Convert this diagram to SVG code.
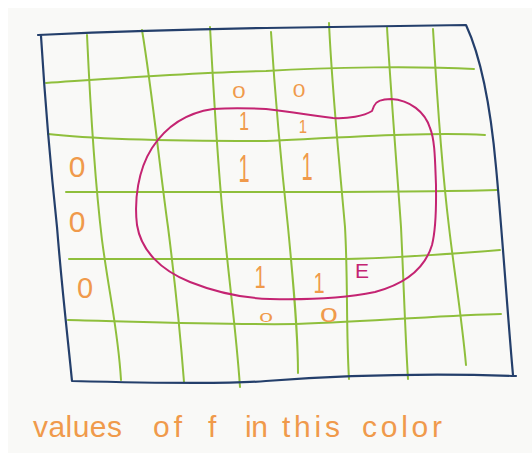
<svg xmlns="http://www.w3.org/2000/svg" width="532" height="453" viewBox="0 0 532 453">
<style>
.frame{fill:none;stroke:#243f6b;stroke-width:2.2;stroke-linecap:round;stroke-linejoin:round}
.grid{fill:none;stroke:#8fbf3c;stroke-width:2;stroke-linecap:round}
.region{fill:none;stroke:#c42472;stroke-width:2;stroke-linejoin:round}
.val{fill:#f09a4b;font-family:"Liberation Sans",Arial,sans-serif;text-anchor:middle}
.lbl{fill:#c42472;font-family:"Liberation Sans",Arial,sans-serif}
.cap{fill:#f09a4b;font-family:"Liberation Sans",Arial,sans-serif;font-size:30px}
</style>
<rect x="0" y="0" width="532" height="453" fill="#ffffff"/>
<rect x="8" y="8" width="524" height="445" fill="#f9f9f7"/>
<g id="grid">
<path class="grid" d="M87,35 C90,100 96,190 102,240 C110,300 118,330 121,380"/>
<path class="grid" d="M142,30 C152,90 160,170 168,227 C176,290 180,330 184,382"/>
<path class="grid" d="M210,27 C214,100 220,190 224,227 C230,290 236,330 240,387"/>
<path class="grid" d="M271,32 C276,110 284,190 288,227 C293,280 298,330 298,373"/>
<path class="grid" d="M329,23 C332,90 340,170 345,227 C348,280 346,330 349,379"/>
<path class="grid" d="M387,27 C390,80 397,170 401,227 C404,290 405,330 408,379"/>
<path class="grid" d="M433,29 C436,80 442,170 449,227 C454,270 462,320 466,365"/>
<path class="grid" d="M46,83 C120,78 200,72 266,71 C330,67 420,66 474,69"/>
<path class="grid" d="M48,134 C90,139 180,141 266,141 C350,137 430,132 485,135"/>
<path class="grid" d="M66,192 C200,192 400,193 497,190"/>
<path class="grid" d="M69,259 L346,259 C400,258 450,254 500,250"/>
<path class="grid" d="M68,320 C150,322 230,325 296,324 C380,321 450,315 501,314"/>
</g>
<g id="frame">
<path class="frame" d="M38,35 Q150,30 266,28 T466,25 C480,55 490,100 496,167 C502,230 508,320 513,375"/>
<path class="frame" d="M41,36 C45,100 52,180 57,227 C62,290 68,340 72,381 C150,383 230,384 266,381 C320,377 400,372 516,376"/>
</g>
<g id="region-E">
<path class="region" d="M213,109 C185,113 165,128 152,148 C138,170 134,200 137,225 C141,250 160,270 190,282 C215,292 240,298 270,299 C310,300 345,298 375,292 C405,284 425,268 432,245 C437,225 436,200 436,185 C435,160 435,140 430,128 C425,112 410,100 391,99 C382,99 376,101 374,106 L372,111 C364,116 348,119 333,118 C305,115 280,110 266,109 C245,108 228,108 213,109 Z"/>
<text class="lbl" x="355" y="278" font-size="21">E</text>
</g>
<g id="values">
<text class="val" transform="translate(239,98) scale(1.5,1)" font-size="16">0</text>
<text class="val" transform="translate(299,97) scale(1.2,1)" font-size="19">0</text>
<text class="val" transform="translate(244,130) scale(1,1.4)" font-size="18">1</text>
<text class="val" transform="translate(303,133) scale(1,1.2)" font-size="15">1</text>
<text class="val" transform="translate(244,182) scale(1,1.9)" font-size="20">1</text>
<text class="val" transform="translate(307,180) scale(1,1.95)" font-size="20">1</text>
<text class="val" x="77" y="177" font-size="30">0</text>
<text class="val" x="77" y="232" font-size="30">0</text>
<text class="val" x="85" y="298" font-size="29">0</text>
<text class="val" transform="translate(260,288) scale(1,1.6)" font-size="20">1</text>
<text class="val" transform="translate(319,293) scale(1,1.47)" font-size="20">1</text>
<text class="val" transform="translate(266,322) scale(1.9,1)" font-size="13">0</text>
<text class="val" transform="translate(329,322) scale(1.6,1)" font-size="20">0</text>
</g>
<g id="caption">
<text class="cap" y="437"><tspan x="33" textLength="89" lengthAdjust="spacing">values</tspan> <tspan x="153" textLength="29" lengthAdjust="spacing">of</tspan> <tspan x="208">f</tspan> <tspan x="245" textLength="23" lengthAdjust="spacing">in</tspan> <tspan x="282" textLength="58" lengthAdjust="spacing">this</tspan> <tspan x="362" textLength="80" lengthAdjust="spacing">color</tspan></text>
</g>
</svg>
